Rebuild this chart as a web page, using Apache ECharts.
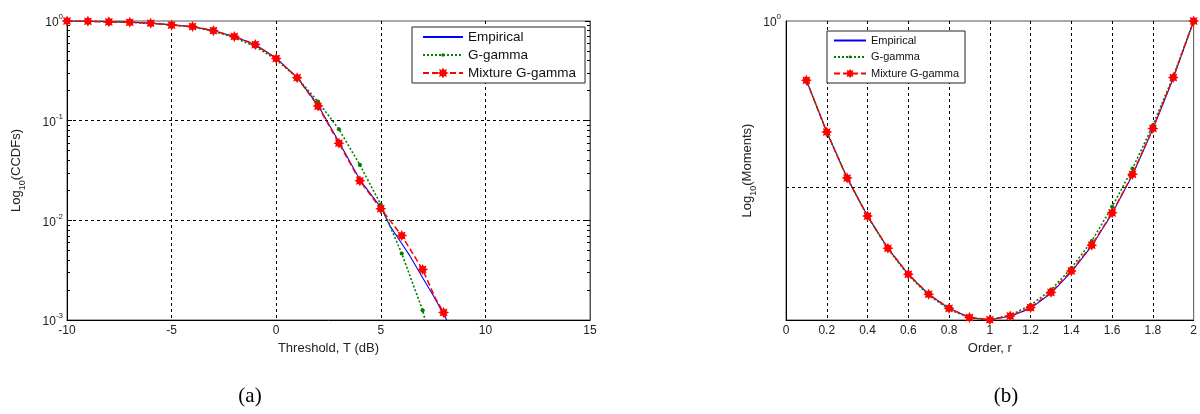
<!DOCTYPE html>
<html><head><meta charset="utf-8">
<script src="https://cdn.jsdelivr.net/npm/echarts@6/dist/echarts.min.js"></script>
<style>html,body{margin:0;padding:0;background:#fff}#c{width:1200px;height:414px}</style>
</head><body><div id="c"></div>
<script>
// ---------- (a) CCDF data ----------
const empT   = [-10,-9,-8,-7,-6,-5,-4,-3,-2,-1,0,1,2,3,4,5,5.45,6,6.4,7,7.52,8.15];
const empCcdf= [1.0,0.995,0.985,0.972,0.952,0.915,0.877,0.80,0.70,0.577,0.425,0.272,0.143,0.061,0.0255,0.0135,0.0087,0.00585,0.00437,0.00265,0.00174,0.001];
const ggT    = [-10,-9,-8,-7,-6,-5,-4,-3,-2,-1,0,1,2,3,4,5,6,7,7.12];
const ggCcdf = [1.0,0.995,0.985,0.97,0.95,0.915,0.87,0.79,0.68,0.555,0.41,0.27,0.155,0.082,0.036,0.0144,0.00465,0.00125,0.001];
const mixT   = [-10,-9,-8,-7,-6,-5,-4,-3,-2,-1,0,1,2,3,4,5,6,7,7.6,8,8.15];
const mixCcdf= [1.0,0.993,0.98,0.97,0.95,0.91,0.88,0.80,0.70,0.58,0.42,0.27,0.140,0.0594,0.0249,0.0131,0.00703,0.00321,0.00167,0.00119,0.001];
const mixMarkerless = [7.6, 8.15];
const ggMarkerless = [7.12];
const xTicksA = [-10,-5,0,5,10,15];

// ---------- (b) Moments data ----------
const order  = [0.1,0.2,0.3,0.4,0.5,0.6,0.7,0.8,0.9,1.0,1.1,1.2,1.3,1.4,1.5,1.6,1.7,1.8,1.9,2.0];
const empMom = [0.439,0.214,0.113,0.0666,0.0426,0.0297,0.0225,0.0185,0.0163,0.0158,0.01660,0.0185,0.0228,0.0307,0.0440,0.0690,0.118,0.223,0.452,1.0];
const ggMom  = [0.439,0.214,0.113,0.0664,0.0423,0.0293,0.0222,0.0183,0.0162,0.0158,0.0168,0.01936,0.0239,0.0324,0.0471,0.0758,0.129,0.235,0.464,1.0];
const mixMom = [0.439,0.214,0.113,0.0666,0.0426,0.0297,0.0225,0.0185,0.0163,0.0158,0.01664,0.0187,0.0231,0.0311,0.0445,0.0697,0.119,0.225,0.456,1.0];
const momMin = 0.01574, momMax = 1, momGrid = 0.1;

const names = ['Empirical','G-gamma','Mixture G-gamma'];
const FONT = '"Liberation Sans", Arial, sans-serif';
const star = 'path://M100,50L77.7,61.5L85.4,85.4L61.5,77.7L50,100L38.5,77.7L14.6,85.4L22.3,61.5L0,50L22.3,38.5L14.6,14.6L38.5,22.3L50,0L61.5,22.3L85.4,14.6L77.7,38.5Z';
// small dot inside a larger (invisible) box so that the legend icon stays small
const dot = 'path://M0,0M100,100M50,35A15,15,0,1,1,50,65A15,15,0,1,1,50,35Z';
const blank = 'path://M0,0M100,100';

function zip(xs, ys, noMark) {
  return xs.map((x, i) => (noMark && noMark.indexOf(x) >= 0) ? {value:[x, ys[i]], symbol:'none'} : [x, ys[i]]);
}
const supRich = {
  b: {fontSize: 12, color: '#222', fontFamily: FONT, lineHeight: 16, verticalAlign: 'bottom'},
  s: {fontSize: 8, color: '#222', fontFamily: FONT, lineHeight: 9, verticalAlign: 'top'}
};
function logLabel(v) {
  const e = Math.round(Math.log10(v));
  return '{b|10}{s|' + e + '}';
}
const nameRich = {
  n: {fontSize: 13, color: '#222', fontFamily: FONT, lineHeight: 17, verticalAlign: 'top'},
  sub: {fontSize: 9, color: '#222', fontFamily: FONT, lineHeight: 9, verticalAlign: 'bottom'}
};
const gridSplit = {show: true, showMinLine: false, showMaxLine: false, lineStyle: {color: '#000', type: [3, 3], width: 1}};

const styles = {
  emp: {type: 'line', symbol: blank, symbolSize: 2, lineStyle: {color: '#0000ff', width: 1.1}, itemStyle: {color: '#0000ff'}, z: 3},
  gg:  {type: 'line', symbol: dot, symbolSize: 14, lineStyle: {color: '#008000', width: 1.6, type: [2, 2]}, itemStyle: {color: '#008000'}, z: 4},
  mix: {type: 'line', symbol: star, symbolSize: 11, lineStyle: {color: '#ff0000', width: 1.5, type: [6, 3]}, itemStyle: {color: '#ff0000'}, z: 5}
};

const option = {
  animation: false,
  backgroundColor: '#fff',
  title: [
    {text: '(a)', left: 245, top: 381, textAlign: 'center', textStyle: {fontFamily: '"Liberation Serif", serif', fontSize: 21, fontWeight: 'normal', color: '#000'}},
    {text: '(b)', left: 1001, top: 381, textAlign: 'center', textStyle: {fontFamily: '"Liberation Serif", serif', fontSize: 21, fontWeight: 'normal', color: '#000'}}
  ],
  legend: [
    {data: names, left: 412, top: 27, orient: 'vertical', itemWidth: 40, itemHeight: 14, itemGap: 4,
     padding: [3, 9, 3, 10], backgroundColor: '#fff', borderColor: '#222', borderWidth: 1,
     textStyle: {fontSize: 13.5, color: '#111', fontFamily: FONT}, selectedMode: false},
    {data: names, left: 827, top: 31, orient: 'vertical', itemWidth: 32, itemHeight: 12, itemGap: 5.5,
     padding: [4, 6, 4, 6], backgroundColor: '#fff', borderColor: '#222', borderWidth: 1,
     textStyle: {fontSize: 11, color: '#111', fontFamily: FONT}, selectedMode: false}
  ],
  grid: [
    {left: 67, top: 21, width: 523, height: 299, show: true, borderColor: '#555', borderWidth: 1, backgroundColor: '#fff'},
    {left: 786, top: 21, width: 409, height: 299, show: true, borderColor: '#555', borderWidth: 1, backgroundColor: '#fff'}
  ],
  xAxis: [
    {gridIndex: 0, type: 'value', min: xTicksA[0], max: xTicksA[xTicksA.length - 1], interval: 5,
     axisLine: {show: true, onZero: false, lineStyle: {color: '#000'}}, axisTick: {show: false},
     axisLabel: {fontSize: 12, color: '#222', fontFamily: FONT, margin: 5},
     splitLine: gridSplit,
     name: 'Threshold, T (dB)', nameLocation: 'middle', nameGap: 20,
     nameTextStyle: {fontSize: 13, color: '#222', fontFamily: FONT}},
    {gridIndex: 1, type: 'value', min: 0, max: 2, interval: 0.2,
     axisLine: {show: true, onZero: false, lineStyle: {color: '#000'}}, axisTick: {show: false},
     axisLabel: {fontSize: 12, color: '#222', fontFamily: FONT, margin: 5},
     splitLine: gridSplit,
     name: 'Order, r', nameLocation: 'middle', nameGap: 20,
     nameTextStyle: {fontSize: 13, color: '#222', fontFamily: FONT}}
  ],
  yAxis: [
    {gridIndex: 0, type: 'log', logBase: 10, min: 0.001, max: 1,
     axisLine: {show: true, onZero: false, lineStyle: {color: '#000'}},
     axisTick: {show: true, inside: true, length: 5, lineStyle: {color: '#000'}},
     minorTick: {show: true, splitNumber: 9, length: 3, lineStyle: {color: '#000'}},
     axisLabel: {formatter: logLabel, rich: supRich, margin: 4},
     splitLine: gridSplit,
     name: '{n|Log}{sub|10}{n|(CCDFs)}', nameLocation: 'middle', nameGap: 40, nameRotate: 90,
     nameTextStyle: {rich: nameRich}},
    {gridIndex: 0, type: 'log', logBase: 10, min: 0.001, max: 1, position: 'right',
     axisLine: {show: true, onZero: false, lineStyle: {color: '#555'}},
     axisTick: {show: true, inside: true, length: 5, lineStyle: {color: '#000'}},
     minorTick: {show: true, splitNumber: 9, length: 3, lineStyle: {color: '#000'}},
     axisLabel: {show: false}, splitLine: {show: false}},
    {gridIndex: 1, type: 'log', logBase: 10, min: momMin, max: momMax,
     axisLine: {show: true, onZero: false, lineStyle: {color: '#000'}},
     axisTick: {show: false},
     axisLabel: {formatter: v => Math.abs(Math.log10(v)) < 1e-6 ? logLabel(v) : '', rich: supRich, margin: 5, showMaxLabel: true, showMinLabel: false},
     splitLine: {show: false},
     name: '{n|Log}{sub|10}{n|(Moments)}', nameLocation: 'middle', nameGap: 28, nameRotate: 90,
     nameTextStyle: {rich: nameRich}}
  ],
  series: [
    Object.assign({name: names[0], xAxisIndex: 0, yAxisIndex: 0, data: zip(empT, empCcdf)}, styles.emp),
    Object.assign({name: names[1], xAxisIndex: 0, yAxisIndex: 0, data: zip(ggT, ggCcdf, ggMarkerless)}, styles.gg),
    Object.assign({name: names[2], xAxisIndex: 0, yAxisIndex: 0, data: zip(mixT, mixCcdf, mixMarkerless)}, styles.mix),
    Object.assign({name: names[0], xAxisIndex: 1, yAxisIndex: 2, data: zip(order, empMom),
      markLine: {silent: true, symbol: 'none', label: {show: false}, lineStyle: {color: '#000', type: [3, 3], width: 1}, data: [{yAxis: momGrid}]}}, styles.emp),
    Object.assign({name: names[1], xAxisIndex: 1, yAxisIndex: 2, data: zip(order, ggMom)}, styles.gg),
    Object.assign({name: names[2], xAxisIndex: 1, yAxisIndex: 2, data: zip(order, mixMom)}, styles.mix)
  ]
};
const chart = echarts.init(document.getElementById('c'), null, {renderer: 'canvas'});
chart.setOption(option);
</script></body></html>
